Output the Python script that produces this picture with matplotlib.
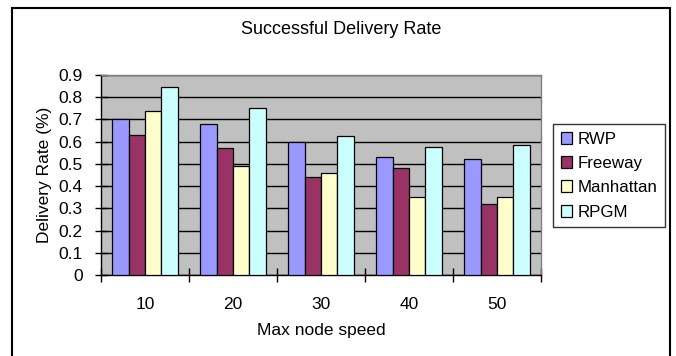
import matplotlib
matplotlib.use("Agg")
import matplotlib.pyplot as plt
from matplotlib.patches import Rectangle
import numpy as np

plt.rcParams['font.family'] = ['Liberation Sans', 'DejaVu Sans']

categories = ['10', '20', '30', '40', '50']
series_names = ['RWP', 'Freeway', 'Manhattan', 'RPGM']
rwp = [0.70, 0.68, 0.60, 0.53, 0.52]
freeway = [0.63, 0.57, 0.44, 0.48, 0.32]
manhattan = [0.74, 0.49, 0.46, 0.35, 0.35]
rpgm = [0.845, 0.75, 0.625, 0.575, 0.585]
colors = ['#9999FF', '#993366', '#FFFFCC', '#CCFFFF']
yticks = [0, 0.1, 0.2, 0.3, 0.4, 0.5, 0.6, 0.7, 0.8, 0.9]

W, H = 676, 356
fig = plt.figure(figsize=(W / 100, H / 100), dpi=100)

# outer frame
fig.patches.append(Rectangle((12 / W, -0.05), (670 - 12) / W, 1.05 - 8 / H,
                             transform=fig.transFigure, fill=False,
                             edgecolor='black', linewidth=1.5))

ax = fig.add_axes([101 / W, 1 - 275 / H, (541 - 101) / W, (275 - 75) / H])
ax.set_facecolor('#C0C0C0')

x = np.arange(len(categories))
bw = 0.185
data = [rwp, freeway, manhattan, rpgm]
for i, (name, vals, c) in enumerate(zip(series_names, data, colors)):
    ax.bar(x + (i - 1.5) * bw, vals, bw, color=c, edgecolor='black',
           linewidth=0.9, label=name, zorder=3)

ax.set_ylim(0, 0.9)
ax.set_xlim(-0.5, len(categories) - 0.5)
ax.set_yticks(yticks)
ax.set_yticklabels(['0' if v == 0 else f'{v:.1f}' for v in yticks], fontsize=12.5)
ax.yaxis.grid(True, color='black', linewidth=1.0, zorder=1)
ax.set_axisbelow(True)

ax.set_xticks(np.arange(len(categories) + 1) - 0.5)
ax.set_xticklabels([])
ax.set_xticks(x, minor=True)
ax.set_xticklabels(categories, minor=True, fontsize=12.5)
ax.tick_params(axis='x', which='minor', length=0, pad=16)
ax.tick_params(axis='x', which='major', direction='inout', length=10, width=1)
ax.tick_params(axis='y', direction='inout', length=8, width=1, pad=9)

for s in ['top', 'right']:
    ax.spines[s].set_color('#808080')
    ax.spines[s].set_linewidth(1.0)
for s in ['left', 'bottom']:
    ax.spines[s].set_color('black')
    ax.spines[s].set_linewidth(1.0)

ax.set_xlabel('Max node speed', fontsize=12.5, labelpad=8)
ax.set_ylabel('Delivery Rate (%)', fontsize=12.5, labelpad=5)

fig.text((242 + 440) / 2 / W, 1 - 30 / H, 'Successful Delivery Rate',
         ha='center', va='center', fontsize=13)

leg = fig.legend(loc='upper left', bbox_to_anchor=(553 / W, 1 - 124 / H),
                 frameon=True, fancybox=False, edgecolor='black', fontsize=12.2,
                 handlelength=0.7, handleheight=0.7, handletextpad=0.3,
                 borderpad=0.45, labelspacing=0.55, borderaxespad=0)
leg.get_frame().set_linewidth(1.0)

fig.savefig('out.png', dpi=100)
